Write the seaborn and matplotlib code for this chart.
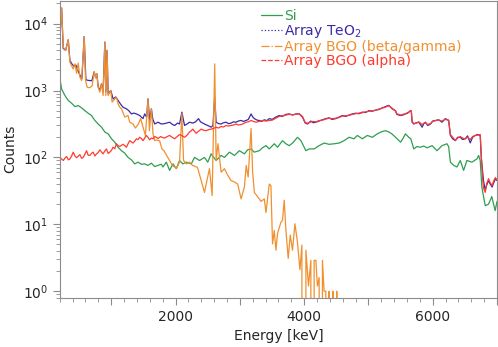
import pandas as pd
import numpy as np

import matplotlib
matplotlib.use("Agg")
import matplotlib.pyplot as plt
from matplotlib.lines import Line2D
from matplotlib.ticker import MultipleLocator, FuncFormatter
import seaborn as sns

# ============================================================
# DATA
# ============================================================

si_energy = [200, 229, 281, 332, 384, 436, 487, 540, 591, 642, 694, 746, 797, 850, 901, 952,
             1005, 1056, 1107, 1160, 1211, 1262, 1315, 1366, 1417, 1469, 1521, 1572, 1625, 1676,
             1727, 1780, 1805, 1857, 1908, 1960, 2012, 2063, 2115, 2167, 2245, 2296, 2374, 2451,
             2502, 2554, 2632, 2710, 2761, 2839, 2916, 2994, 3071, 3122, 3175, 3226, 3303, 3355,
             3407, 3458, 3536, 3587, 3664, 3717, 3768, 3820, 3898, 3950, 4001, 4028, 4079, 4157,
             4234, 4312, 4389, 4467, 4544, 4622, 4699, 4777, 4828, 4906, 4983, 5061, 5138, 5215,
             5267, 5318, 5365, 5422, 5500, 5535, 5577, 5628, 5659, 5706, 5752, 5810, 5861, 5912,
             5990, 6067, 6145, 6222, 6248, 6275, 6326, 6378, 6429, 6481, 6532, 6610, 6688, 6714,
             6739, 6764, 6817, 6868, 6919, 6971, 7000]
si_counts = [1550, 1050, 840, 710, 645, 575, 595, 550, 500, 458, 423, 357, 316, 283, 240, 225,
             190, 169, 142, 126, 116, 100, 92, 80, 85, 79, 80, 76, 82, 73,
             76, 79, 72, 85, 64, 80, 68, 90, 80, 85, 80, 100, 90, 100,
             85, 113, 90, 107, 100, 120, 107, 126, 113, 130, 134, 120, 126, 140,
             150, 134, 160, 142, 178, 160, 150, 164, 200, 178, 142, 126, 134, 134,
             150, 164, 157, 160, 164, 178, 200, 190, 213, 190, 213, 200, 225, 244,
             251, 240, 225, 200, 169, 190, 225, 200, 190, 134, 145, 142, 148, 139,
             150, 126, 150, 160, 145, 85, 76, 72, 90, 64, 90, 85, 95, 107,
             90, 36, 19, 20, 26, 16, 22]

teo2_energy = [200, 229, 254, 291, 332, 358, 389, 420, 451, 482, 513, 544, 580, 606, 637, 668,
               699, 735, 761, 777, 797, 823, 850, 874, 901, 916, 936, 952, 994, 1029, 1071, 1107,
               1149, 1184, 1237, 1273, 1315, 1350, 1392, 1443, 1494, 1521, 1552, 1572, 1598, 1625,
               1645, 1676, 1727, 1780, 1831, 1877, 1908, 1955, 1986, 2033, 2063, 2099, 2141, 2188,
               2218, 2270, 2311, 2358, 2389, 2424, 2466, 2502, 2554, 2582, 2610, 2632, 2668, 2710,
               2746, 2787, 2823, 2865, 2901, 2943, 2978, 3020, 3056, 3098, 3133, 3175, 3203, 3226,
               3272, 3303, 3342, 3381, 3420, 3458, 3504, 3558, 3613, 3664, 3717, 3768, 3820, 3872,
               3923, 3975, 4018, 4053, 4105, 4141, 4182, 4233, 4285, 4337, 4388, 4435, 4492, 4543,
               4595, 4647, 4699, 4750, 4802, 4853, 4905, 4957, 5009, 5060, 5113, 5164, 5215, 5267,
               5292, 5318, 5369, 5422, 5442, 5500, 5535, 5577, 5613, 5654, 5667, 5680, 5706, 5745,
               5784, 5836, 5862, 5887, 5923, 5965, 6000, 6042, 6093, 6145, 6196, 6248, 6275, 6310,
               6352, 6387, 6429, 6464, 6506, 6542, 6584, 6620, 6661, 6697, 6739, 6755, 6790, 6817,
               6837, 6868, 6894, 6924, 6950, 6976, 7000]
teo2_counts = [5970, 17100, 4260, 3980, 5720, 2800, 2500, 2300, 2400, 2000, 1700, 1500, 6400, 1450, 1420, 1410,
               1400, 1900, 1550, 1780, 1150, 1000, 1260, 950, 5300, 950, 3980, 900, 1000, 750, 800, 710,
               620, 562, 533, 500, 447, 460, 447, 423, 380, 447, 400, 750, 357, 533,
               380, 316, 336, 316, 320, 330, 336, 310, 300, 326, 316, 475, 300, 320,
               336, 326, 340, 380, 340, 326, 310, 300, 283, 300, 800, 336, 320, 316,
               330, 336, 320, 326, 340, 336, 350, 357, 345, 357, 370, 447, 400, 380,
               360, 357, 345, 365, 355, 380, 370, 400, 423, 410, 440, 447, 430, 447,
               447, 400, 326, 316, 350, 330, 336, 350, 365, 380, 390, 370, 380, 400,
               423, 410, 430, 447, 458, 450, 475, 470, 500, 490, 510, 520, 550, 575,
               590, 600, 533, 500, 440, 423, 430, 447, 460, 500, 490, 336, 316, 330,
               336, 283, 320, 336, 300, 316, 350, 357, 365, 336, 380, 357, 213, 190,
               178, 200, 200, 185, 190, 210, 165, 200, 213, 220, 213, 100, 45, 32,
               38, 45, 40, 36, 42, 48, 45]

bgo_bg_energy = [200, 229, 254, 291, 332, 358, 384, 409, 436, 462, 487, 513, 540, 580, 601, 626,
                 668, 704, 735, 757, 777, 797, 823, 850, 874, 901, 916, 936, 952, 994, 1014, 1056,
                 1082, 1107, 1133, 1160, 1211, 1262, 1288, 1340, 1377, 1417, 1459, 1495, 1532, 1572,
                 1594, 1625, 1650, 1676, 1702, 1753, 1789, 1820, 1862, 1908, 1955, 2017, 2063, 2099,
                 2125, 2172, 2218, 2265, 2342, 2400, 2451, 2477, 2528, 2570, 2610, 2632, 2660, 2710,
                 2761, 2813, 2864, 2916, 2967, 3020, 3071, 3100, 3130, 3175, 3200, 3226, 3277, 3330,
                 3381, 3407, 3458, 3484, 3509, 3536, 3562, 3587, 3640, 3664, 3691, 3717, 3753, 3784,
                 3820, 3857, 3897, 3935, 3966, 4002, 4028, 4068, 4105, 4130, 4156, 4183, 4207, 4234,
                 4260, 4285, 4311, 4338, 4363, 4389, 4415, 4451, 4482, 4508, 4528, 4600]
bgo_bg_counts = [5970, 17100, 4430, 3980, 5720, 2640, 2350, 2100, 2500, 1810, 2570, 1590, 1410, 6400, 1410, 1120,
                 1100, 1180, 1900, 1550, 1780, 1120, 945, 1260, 840, 5300, 840, 3980, 840, 1000, 670, 750,
                 795, 632, 562, 533, 400, 423, 336, 316, 275, 310, 380, 283, 213, 750,
                 251, 533, 225, 178, 182, 178, 134, 126, 107, 90, 75, 69, 85, 455,
                 90, 80, 85, 76, 71, 45, 30, 40, 68, 27, 2500, 90, 160, 60,
                 68, 54, 45, 43, 40, 24, 36, 76, 51, 270, 60, 30, 26, 22,
                 24, 15, 40, 38, 5.1, 8.1, 4.1, 7.3, 10.8, 11.5, 22.9, 8.1, 3.1, 6.9,
                 4.1, 10.2, 5.4, 2.1, 4.9, 0, 4.1, 1.2, 2.9, 0, 2.9, 2.9, 1.2, 1.6,
                 0, 2.9, 1, 1, 0, 1, 0, 1, 0, 1, 0, 0]

bgo_alpha_energy = [203, 226, 254, 281, 307, 335, 358, 384, 409, 436, 462, 487, 513, 540, 564, 591,
                    617, 642, 668, 694, 719, 746, 772, 797, 823, 850, 874, 901, 927, 952, 978, 1005,
                    1029, 1056, 1082, 1107, 1133, 1160, 1184, 1211, 1237, 1262, 1288, 1315, 1340, 1366,
                    1392, 1417, 1443, 1469, 1494, 1521, 1547, 1572, 1598, 1625, 1650, 1676, 1702, 1730,
                    1769, 1800, 1831, 1870, 1908, 1947, 1986, 2025, 2063, 2102, 2141, 2180, 2218, 2245,
                    2270, 2296, 2322, 2358, 2400, 2435, 2477, 2513, 2554, 2590, 2632, 2668, 2710, 2746,
                    2787, 2823, 2865, 2901, 2943, 2978, 3020, 3056, 3098, 3133, 3175, 3211, 3252, 3303,
                    3355, 3407, 3458, 3504, 3558, 3613, 3664, 3717, 3768, 3820, 3872, 3923, 3975, 4018,
                    4053, 4105, 4141, 4182, 4233, 4285, 4337, 4388, 4435, 4492, 4543, 4595, 4647, 4699,
                    4750, 4802, 4853, 4905, 4957, 5009, 5060, 5113, 5164, 5215, 5267, 5292, 5318, 5369,
                    5422, 5442, 5500, 5535, 5577, 5613, 5654, 5667, 5680, 5706, 5745, 5784, 5836, 5862,
                    5887, 5923, 5965, 6000, 6042, 6093, 6145, 6196, 6248, 6275, 6310, 6352, 6387, 6429,
                    6464, 6506, 6542, 6584, 6620, 6661, 6697, 6739, 6755, 6775, 6790, 6817, 6837, 6868,
                    6894, 6924, 6950, 6976, 7000]
bgo_alpha_counts = [100, 95, 90, 98, 103, 92, 95, 105, 120, 105, 99, 104, 110, 97, 100, 112,
                    126, 108, 107, 115, 120, 105, 113, 118, 130, 120, 113, 125, 134, 115, 120, 128,
                    142, 135, 160, 150, 146, 152, 157, 150, 142, 160, 178, 170, 164, 175,
                    190, 185, 200, 192, 178, 195, 213, 200, 183, 195, 190, 205, 200, 192,
                    205, 198, 195, 205, 213, 200, 190, 205, 220, 210, 200, 215, 240, 250,
                    265, 245, 230, 245, 265, 255, 251, 260, 265, 270, 283, 275, 290, 285,
                    300, 295, 300, 305, 316, 305, 310, 320, 336, 340, 357, 345, 336, 345,
                    357, 350, 357, 360, 385, 410, 420, 430, 440, 435, 440, 450, 410, 330,
                    325, 340, 345, 340, 355, 360, 375, 385, 380, 385, 395, 415, 420, 425,
                    440, 450, 460, 465, 480, 490, 500, 505, 530, 545, 565, 580, 590, 545,
                    490, 450, 430, 440, 450, 470, 490, 500, 345, 320, 325, 340, 310, 325,
                    330, 310, 320, 345, 355, 360, 350, 370, 360, 220, 200, 180, 195, 205,
                    195, 190, 200, 185, 205, 213, 215, 220, 110, 50, 35, 30, 40, 48,
                    42, 38, 45, 50, 46]

series_names = ["Si", "Array TeO$_2$", "Array BGO (beta/gamma)", "Array BGO (alpha)"]
series_colors = ["#2e9e4f", "#3b2aa6", "#f0902e", "#ff3b2f"]
legend_styles = ["-", ":", "-.", "--"]

# ============================================================
# LONG TABLE FOR SEABORN
# ============================================================

frames = []
for name, e, c in zip(series_names,
                      [si_energy, teo2_energy, bgo_bg_energy, bgo_alpha_energy],
                      [si_counts, teo2_counts, bgo_bg_counts, bgo_alpha_counts]):
    frames.append(pd.DataFrame({"energy": e, "counts": c, "series": name}))
df = pd.concat(frames, ignore_index=True)

# ============================================================
# PLOT
# ============================================================

sns.set_style("ticks")
plt.rcParams['font.family'] = ['DejaVu Sans']

fig = plt.figure(figsize=(4.98, 3.47), dpi=100)
ax = fig.add_axes([0.120, 0.142, 0.878, 0.856])

sns.lineplot(
    data=df, x="energy", y="counts", hue="series",
    hue_order=series_names,
    palette=dict(zip(series_names, series_colors)),
    estimator=None, sort=False, legend=False,
    linewidth=0.9, ax=ax
)

ax.set_yscale("log")
ax.set_xlim(200, 7000)
ax.set_ylim(0.8, 2.2e4)

ax.xaxis.set_major_locator(MultipleLocator(1000))
ax.xaxis.set_minor_locator(MultipleLocator(200))
ax.xaxis.set_major_formatter(FuncFormatter(lambda v, p: f"{int(v)}" if int(v) % 2000 == 0 else ""))

ax.set_xlabel("Energy [keV]", fontsize=10)
ax.set_ylabel("Counts", fontsize=10)

gray = "#8c8c8c"
for sp in ax.spines.values():
    sp.set_visible(True)
    sp.set_color(gray)
ax.tick_params(which="major", direction="out", length=5, width=0.8, color=gray, labelsize=10)
ax.tick_params(which="minor", direction="out", length=3, width=0.6, color=gray)

# ============================================================
# LEGEND
# ============================================================

handles = [Line2D([0], [0], color=c, lw=0.9, ls=s) for c, s in zip(series_colors, legend_styles)]
ax.legend(handles, series_names, loc="upper left", bbox_to_anchor=(0.441, 1.0),
          frameon=False, fontsize=10, labelcolor="linecolor",
          handlelength=1.5, handletextpad=0.15, labelspacing=0.0,
          borderaxespad=0.0, borderpad=0.6)

plt.savefig("out.png", dpi=100)
